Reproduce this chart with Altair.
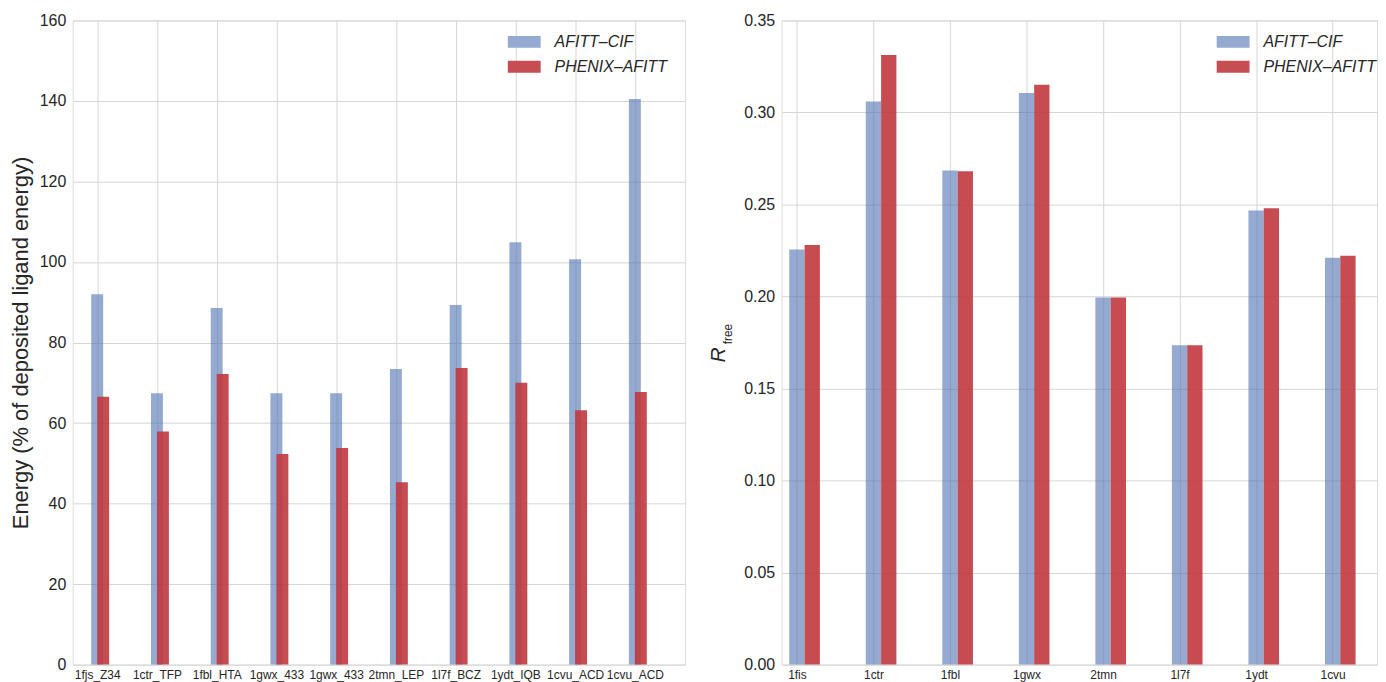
import altair as alt
import pandas as pd

# ---- data ----
energy_labels = ["1fjs_Z34", "1ctr_TFP", "1fbl_HTA", "1gwx_433", "1gwx_433",
                 "2tmn_LEP", "1l7f_BCZ", "1ydt_IQB", "1cvu_ACD", "1cvu_ACD"]
energy_afitt_cif = [92.0, 67.4, 88.6, 67.4, 67.4, 73.4, 89.3, 104.9, 100.7, 140.5]
energy_phenix_afitt = [66.5, 57.9, 72.2, 52.3, 53.8, 45.3, 73.7, 70.0, 63.2, 67.7]

rfree_labels = ["1fis", "1ctr", "1fbl", "1gwx", "2tmn", "1l7f", "1ydt", "1cvu"]
rfree_afitt_cif = [0.2255, 0.3060, 0.2685, 0.3105, 0.1995, 0.1735, 0.2467, 0.2210]
rfree_phenix_afitt = [0.2280, 0.3312, 0.2680, 0.3150, 0.1995, 0.1735, 0.2480, 0.2222]

series = ["AFITT\u2013CIF", "PHENIX\u2013AFITT"]
colors = ["#4C72B0", "#C0393F"]          # bar colours (drawn semi-transparent)
opac = [0.6, 0.9]
legend_colors = ["#94AAD0", "#C64D52"]   # same colours as seen on white

FONT = "Liberation Sans"
TXT = "#262626"
GRID = "#D6D6D6"


def frame(labels, a, b):
    rows = []
    for i, lab in enumerate(labels):
        rows.append({"idx": i, "cat": lab, "series": series[0], "value": a[i]})
        rows.append({"idx": i, "cat": lab, "series": series[1], "value": b[i]})
    return pd.DataFrame(rows)


def panel(df, labels, xdom, ydom, yvals, yfmt, ytitle, red_off, width, height):
    expr = "[" + ",".join("'" + s + "'" for s in labels) + "][datum.value]"
    xs = alt.Scale(domain=xdom, nice=False, zero=False)
    base = alt.Chart(df).transform_calculate(
        x0=f"datum.series == '{series[0]}' ? datum.idx - 0.1 : datum.idx + {red_off}",
        x1=f"datum.series == '{series[0]}' ? datum.idx + 0.1 : datum.idx + {red_off} + 0.2",
    )
    bars = base.mark_bar(strokeWidth=0.8, strokeOpacity=0.6).encode(
        x=alt.X("x0:Q", scale=xs, axis=alt.Axis(
            values=list(range(len(labels))), labelExpr=expr, title=None,
            grid=True, gridColor=GRID, ticks=False, domain=False,
            labelFontSize=12, labelFont=FONT, labelColor=TXT, labelPadding=5)),
        x2="x1:Q",
        y=alt.Y("value:Q", scale=alt.Scale(domain=ydom, nice=False), axis=alt.Axis(
            values=yvals, format=yfmt, title=ytitle, grid=True, gridColor=GRID,
            ticks=False, domain=False, labelFontSize=16, labelFont=FONT,
            labelColor=TXT, labelPadding=7, titleFontSize=22, titleFont=FONT,
            titleColor=TXT, titleFontWeight="normal", titlePadding=7)),
        y2=alt.datum(0),
        color=alt.Color("series:N", scale=alt.Scale(domain=series, range=colors),
                        legend=None),
        fillOpacity=alt.FillOpacity("series:N", scale=alt.Scale(domain=series, range=opac),
                                    legend=None),
        order=alt.Order("series:N"),
    )
    key = alt.Chart(df).mark_square(size=0, filled=True).encode(
        x=alt.value(0), y=alt.value(0),
        color=alt.Color("series:N", scale=alt.Scale(domain=series, range=legend_colors),
                        legend=alt.Legend(
                            title=None, orient="none", legendX=445, legendY=13,
                            symbolType="M-2,-0.72H2V0.72H-2Z", symbolSize=272,
                            symbolStrokeWidth=0, symbolOpacity=1, labelFontSize=16,
                            labelFontStyle="italic", labelFont=FONT, labelColor=TXT,
                            labelOffset=22, rowPadding=8)),
    )
    return alt.layer(bars, key).resolve_scale(color="independent").properties(
        width=width, height=height)


left = panel(frame(energy_labels, energy_afitt_cif, energy_phenix_afitt),
             energy_labels, [-0.41, 9.84], [0, 160], list(range(0, 161, 20)), "d",
             "Energy (% of deposited ligand energy)", 0.0, 615, 647)

right_panel = panel(frame(rfree_labels, rfree_afitt_cif, rfree_phenix_afitt),
                    rfree_labels, [-0.2, 7.58], [0, 0.35],
                    [round(0.05 * k, 2) for k in range(8)], ".2f", None, 0.1, 598, 647)

r_main = alt.Chart(pd.DataFrame({"t": ["R"]})).mark_text(
    angle=270, fontSize=21, fontStyle="italic", font=FONT, color=TXT,
    align="center", baseline="middle").encode(
    text="t:N", x=alt.value(-63), y=alt.value(336))
r_sub = alt.Chart(pd.DataFrame({"t": ["free"]})).mark_text(
    angle=270, fontSize=12, font=FONT, color=TXT,
    align="center", baseline="middle").encode(
    text="t:N", x=alt.value(-54), y=alt.value(315))

right = alt.layer(right_panel, r_main, r_sub)

chart = alt.hconcat(left, right, spacing=21).resolve_scale(
    color="independent", fillOpacity="independent"
).resolve_legend(color="independent").configure_view(
    stroke="#CFCFCF"
).configure(padding={"left": 0, "top": 2, "right": 0, "bottom": 0})

chart.save("out.html", embed_options={"renderer": "svg", "actions": False})
